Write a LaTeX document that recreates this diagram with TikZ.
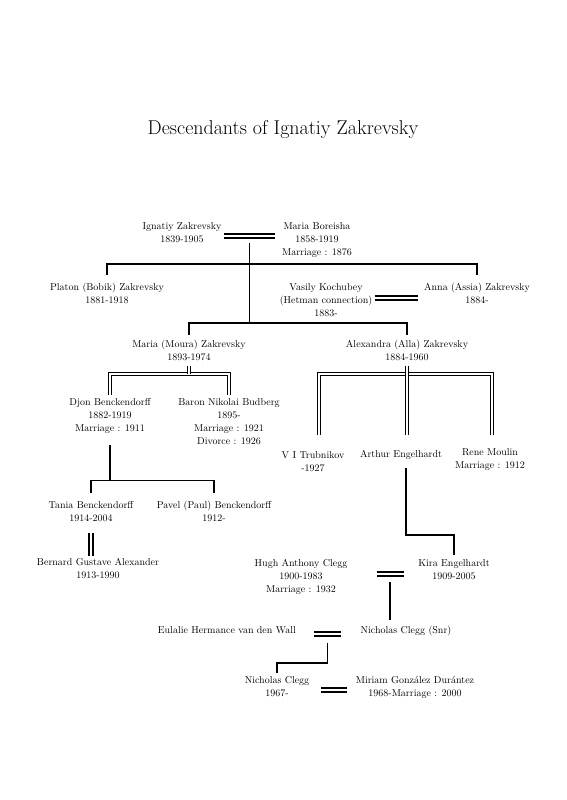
\documentclass[tikz,border=0pt]{standalone}
\usetikzlibrary{calc}
\tikzset{
  personne/.style={align=center,anchor=north,inner xsep=1pt,inner ysep=1pt,
    font=\fontsize{10}{13}\selectfont,execute at begin node=\strut,execute at end node=\strut},
  mariage/.style={double,double distance=1.6pt,line width=1.8pt},
  filiation/.style={line width=1.3pt},
  lignee/.style={double,double distance=2pt,line width=1.1pt}
}
\begin{document}
\begin{tikzpicture}[x=1pt,y=-1pt]
  \useasboundingbox (0,0) rectangle (566,800);
  \node[font=\fontsize{20}{24}\selectfont,anchor=base] (titre) at (283,134) {Descendants of Ignatiy Zakrevsky};
  % generation 1
  \node[personne] (ignatiy) at (182,221) {Ignatiy Zakrevsky\\1839-1905};
  \node[personne] (maria) at (317,221) {Maria Boreisha\\1858-1919\\Marriage : 1876};
  % generation 2
  \node[personne] (platon) at (107,282) {Platon (Bobik) Zakrevsky\\1881-1918};
  \node[personne] (vasily) at (326,282) {Vasily Kochubey\\(Hetman connection)\\1883-};
  \node[personne] (anna) at (477,282) {Anna (Assia) Zakrevsky\\1884-};
  \node[personne] (moura) at (189,339) {Maria (Moura) Zakrevsky\\1893-1974};
  \node[personne] (alla) at (407,339) {Alexandra (Alla) Zakrevsky\\1884-1960};
  % conjoints
  \node[personne] (djon) at (110,397) {Djon Benckendorff\\1882-1919\\Marriage : 1911};
  \node[personne] (budberg) at (229,397) {Baron Nikolai Budberg\\1895-\\Marriage : 1921\\Divorce : 1926};
  \node[personne] (trubnikov) at (313,450) {V I Trubnikov\\-1927};
  \node[personne] (arthur) at (401,447) {Arthur Engelhardt};
  \node[personne] (rene) at (490,447) {Rene Moulin\\Marriage : 1912};
  % generation 3
  \node[personne] (tania) at (91,500) {Tania Benckendorff\\1914-2004};
  \node[personne] (pavel) at (214,500) {Pavel (Paul) Benckendorff\\1912-};
  \node[personne] (bernard) at (98,557) {Bernard Gustave Alexander\\1913-1990};
  \node[personne] (hugh) at (301,558) {Hugh Anthony Clegg\\1900-1983\\Marriage : 1932};
  \node[personne] (kira) at (454,558) {Kira Engelhardt\\1909-2005};
  % generation 4 et 5
  \node[personne,anchor=north east] (eulalie) at (297,623) {Eulalie Hermance van den Wall};
  \node[personne] (nick) at (406,623) {Nicholas Clegg (Snr)};
  \node[personne] (nicholas) at (277,675) {Nicholas Clegg\\1967-};
  \node[personne] (miriam) at (415,675) {Miriam Gonz\'alez Dur\'antez\\1968-Marriage : 2000};

  % Ignatiy et Maria
  \coordinate (uIM) at (249.5,236);
  \coordinate (bIM) at (249.5,264);
  \coordinate (fam2) at (249.5,323);
  \draw[filiation] ($(uIM)+(0,7)$) -- (fam2);
  \draw[mariage] ($(uIM)+(-25.5,0)$) -- ($(uIM)+(25.5,0)$);
  \draw[filiation] ($(platon.north)+(0,-7)$) |- (bIM) -| ($(anna.north)+(0,-7)$);
  \draw[filiation] ($(moura.north)+(0,-4)$) |- (fam2) -| ($(alla.north)+(0,-4)$);
  \coordinate (uVA) at (396.5,298);
  \draw[mariage] ($(uVA)+(-21.5,0)$) -- ($(uVA)+(21.5,0)$);

  % Moura
  \coordinate (bMo) at ($(moura.south)+(0,8.5)$);
  \draw[lignee] ($(djon.north)+(0,-2)$) |- (bMo) -| ($(budberg.north)+(0,-2)$);
  \draw[lignee] (moura.south) -- (bMo);

  % Alla
  \coordinate (bAl) at ($(alla.south)+(0,8.5)$);
  \coordinate (aTr) at (319,435);
  \coordinate (aRe) at (492,435);
  \coordinate (aAr) at (407,435);
  \draw[lignee] (aTr) |- (bAl) -| (aRe);
  \draw[lignee] (alla.south) -- (aAr);

  % Arthur et Kira
  \coordinate (dAr) at (406,468);
  \draw[filiation] (dAr) |- ($(kira.north)+(0,-23)$) -- ($(kira.north)+(0,-3)$);

  % Djon
  \coordinate (dDj) at ($(djon.south)+(0,9)$);
  \coordinate (bDj) at ($(dDj)+(0,35)$);
  \draw[filiation] (dDj) -- (bDj);
  \draw[filiation] ($(tania.north)+(0,-7)$) |- (bDj) -| ($(pavel.north)+(0,-7)$);
  \draw[mariage] ($(tania.south)+(0,7)$) -- ($(tania.south |- bernard.north)+(0,-1)$);

  % Hugh et Kira
  \coordinate (uHK) at (390,574);
  \draw[mariage] ($(uHK)+(-13.5,0)$) -- ($(uHK)+(13.5,0)$);
  \draw[filiation] ($(uHK)+(0,8)$) -- ($(uHK |- nick.north)+(0,-3)$);

  % Eulalie et Nicholas
  \coordinate (uEN) at (327.5,634);
  \draw[mariage] ($(uEN)+(-13.5,0)$) -- ($(uEN)+(13.5,0)$);
  \draw[filiation] ($(uEN)+(0,9)$) |- ($(nicholas.north)+(0,-12)$) -- ($(nicholas.north)+(0,-2)$);
  \coordinate (uNM) at (334,690);
  \draw[mariage] ($(uNM)+(-13,0)$) -- ($(uNM)+(13,0)$);
\end{tikzpicture}
\end{document}
